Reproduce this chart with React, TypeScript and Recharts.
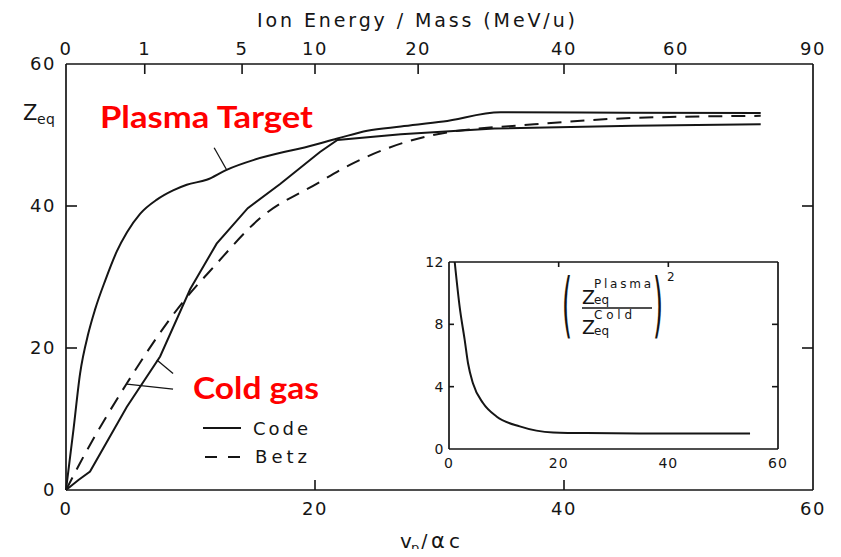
import React from 'react';
import { LineChart, Line, XAxis, YAxis, ReferenceLine } from 'recharts';

// ---------- data ----------
const velocityTicks = [0, 20, 40, 60];
const zTicks = [0, 20, 40, 60];
const energyTickLabels = [0, 1, 5, 10, 20, 40, 60, 90];

const plasmaV = [0, 0.6, 1.13, 1.8, 2.33, 3.17, 4.08, 4.9, 5.95, 7.3, 8.6, 9.7, 11.3, 12.9, 15.1, 17.5, 18.8, 21.8, 24.2, 26.9, 30.3, 34.9, 45.0, 55.8];
const plasmaZ = [0, 8.5, 16.4, 22.1, 25.4, 29.6, 33.6, 36.3, 38.9, 40.9, 42.2, 43.0, 43.7, 45.1, 46.5, 47.6, 48.1, 49.5, 50.6, 51.2, 51.9, 53.2, 53.15, 53.1];

const codeV = [0, 1.0, 1.93, 4.88, 7.56, 9.98, 12.1, 14.6, 17.2, 20.4, 21.8, 26.9, 34.4, 45.6, 55.8];
const codeZ = [0, 1.4, 2.6, 11.7, 18.8, 28.3, 34.7, 39.7, 43.1, 47.6, 49.3, 50.1, 50.9, 51.3, 51.5];

const betzV = [0, 1.13, 4.88, 9.4, 11.85, 15.6, 20.2, 22.8, 29.5, 37.6, 45.6, 55.8];
const betzZ = [0, 3.8, 15.0, 26.5, 31.4, 38.3, 43.2, 45.8, 50.0, 51.5, 52.4, 52.7];

const ratioV = [1.04, 1.95, 2.86, 3.47, 4.38, 6.2, 8.66, 12.9, 19.0, 25.1, 40.0, 54.9];
const ratioR = [12.0, 9.1, 7.0, 5.5, 4.2, 2.95, 2.09, 1.45, 1.06, 1.02, 1.0, 1.0];
const ratioTicks = [0, 4, 8, 12];
const insetVelocityTicks = [0, 20, 40, 60];

// pointer lines from labels to curves
const plasmaPointer = [{ x: 11.9, y: 48.2 }, { x: 12.9, y: 45.1 }];
const coldPointerA = [{ x: 7.3, y: 18.3 }, { x: 8.6, y: 16.4 }];
const coldPointerB = [{ x: 4.9, y: 14.9 }, { x: 8.6, y: 14.2 }];

const zip = (xs: number[], ys: number[], k: string) => xs.map((v, i) => ({ v, [k]: ys[i] }));
const plasmaData = zip(plasmaV, plasmaZ, 'z');
const codeData = zip(codeV, codeZ, 'z');
const betzData = zip(betzV, betzZ, 'z');
const ratioData = zip(ratioV, ratioR, 'r');
// E [MeV/u] = v^2 / 40 for the top axis
const energyTickPositions = energyTickLabels.map((e) => Math.sqrt(40 * e));

// ---------- styling ----------
const INK = '#151515';
const FONT = '"DejaVu Sans", sans-serif';

type TickOpts = {
  side: 'top' | 'bottom' | 'left' | 'right';
  len: number;
  gap: number;
  fontSize: number;
  spacing: number;
  ends: number[];
  labels?: (string | number)[];
  showLabel: boolean;
};

function makeTick(o: TickOpts) {
  return (props: any) => {
    const { x, y, payload, index } = props;
    const v = payload.value;
    const isEnd = o.ends.some((e) => Math.abs(e - v) < 1e-6);
    const text = o.labels ? o.labels[index] : v;
    let mark: any = null;
    let label: any = null;
    if (o.side === 'bottom') {
      if (!isEnd && o.len > 0) mark = <line x1={x} y1={y} x2={x} y2={y - o.len} stroke={INK} strokeWidth={1.6} />;
      if (o.showLabel)
        label = (
          <text x={x} y={y + o.gap} textAnchor="middle" fontSize={o.fontSize} fontFamily={FONT} letterSpacing={o.spacing} fill={INK}>
            {text}
          </text>
        );
    } else if (o.side === 'top') {
      if (!isEnd && o.len > 0) mark = <line x1={x} y1={y} x2={x} y2={y + o.len} stroke={INK} strokeWidth={1.6} />;
      if (o.showLabel)
        label = (
          <text x={x} y={y - o.gap} textAnchor="middle" fontSize={o.fontSize} fontFamily={FONT} letterSpacing={o.spacing} fill={INK}>
            {text}
          </text>
        );
    } else if (o.side === 'left') {
      if (!isEnd && o.len > 0) mark = <line x1={x} y1={y} x2={x + o.len} y2={y} stroke={INK} strokeWidth={1.6} />;
      if (o.showLabel)
        label = (
          <text x={x - o.gap} y={y} dy="0.36em" textAnchor="end" fontSize={o.fontSize} fontFamily={FONT} letterSpacing={o.spacing} fill={INK}>
            {text}
          </text>
        );
    } else {
      if (!isEnd && o.len > 0) mark = <line x1={x} y1={y} x2={x - o.len} y2={y} stroke={INK} strokeWidth={1.6} />;
    }
    return (
      <g>
        {mark}
        {label}
      </g>
    );
  };
}

const axisLine = { stroke: INK, strokeWidth: 1.7 };

const mainBottomTick = makeTick({ side: 'bottom', len: 10, gap: 25, fontSize: 18, spacing: 1.5, ends: [0, 60], showLabel: true });
const mainTopTick = makeTick({ side: 'top', len: 10, gap: 9, fontSize: 18, spacing: 1.5, ends: [0, 60], labels: energyTickLabels, showLabel: true });
const mainLeftTick = makeTick({ side: 'left', len: 11, gap: 10, fontSize: 18, spacing: 1.5, ends: [0, 60], showLabel: true });
const mainRightTick = makeTick({ side: 'right', len: 11, gap: 0, fontSize: 18, spacing: 0, ends: [0, 60], showLabel: false });

const insetBottomTick = makeTick({ side: 'bottom', len: 0, gap: 19, fontSize: 14, spacing: 1, ends: [0, 20, 40, 60], showLabel: true });
const insetTopTick = makeTick({ side: 'top', len: 5, gap: 0, fontSize: 14, spacing: 0, ends: [0, 60], showLabel: false });
const insetLeftTick = makeTick({ side: 'left', len: 5, gap: 5, fontSize: 14, spacing: 0.5, ends: [0, 12], showLabel: true });
const insetRightTick = makeTick({ side: 'right', len: 6, gap: 0, fontSize: 14, spacing: 0, ends: [0, 12], showLabel: false });

export default function App() {
  return (
    <div style={{ position: 'relative', width: 825, height: 541, background: '#fff' }}>
      <LineChart width={825} height={541} margin={{ top: 26, right: 10, bottom: 29, left: 18 }}>
        <XAxis xAxisId="bottom" type="number" dataKey="v" domain={[0, 60]} ticks={velocityTicks} interval={0} height={30}
          axisLine={axisLine} tickLine={false} tickSize={0} tickMargin={0} tick={mainBottomTick} />
        <XAxis xAxisId="top" orientation="top" type="number" dataKey="v" domain={[0, 60]} ticks={energyTickPositions} interval={0} height={30}
          axisLine={axisLine} tickLine={false} tickSize={0} tickMargin={0} tick={mainTopTick} />
        <YAxis yAxisId="left" type="number" domain={[0, 60]} ticks={zTicks} interval={0} width={40}
          axisLine={axisLine} tickLine={false} tickSize={0} tickMargin={0} tick={mainLeftTick} />
        <YAxis yAxisId="right" orientation="right" type="number" domain={[0, 60]} ticks={zTicks} interval={0} width={10}
          axisLine={axisLine} tickLine={false} tickSize={0} tickMargin={0} tick={mainRightTick} />
        {/* invisible carrier so the top / right frame axes get a scale */}
        <Line xAxisId="top" yAxisId="right" data={betzData} dataKey="z" stroke="none" dot={false} activeDot={false} legendType="none" isAnimationActive={false} />
        <Line xAxisId="bottom" yAxisId="left" data={plasmaData} dataKey="z" type="monotone" dot={false} stroke={INK} strokeWidth={2} isAnimationActive={false} />
        <Line xAxisId="bottom" yAxisId="left" data={codeData} dataKey="z" type="linear" dot={false} stroke={INK} strokeWidth={2} isAnimationActive={false} />
        <Line xAxisId="bottom" yAxisId="left" data={betzData} dataKey="z" type="monotone" dot={false} stroke={INK} strokeWidth={2} strokeDasharray="14 9" isAnimationActive={false} />
        <ReferenceLine xAxisId="bottom" yAxisId="left" segment={plasmaPointer} stroke={INK} strokeWidth={1.3} />
        <ReferenceLine xAxisId="bottom" yAxisId="left" segment={coldPointerA} stroke={INK} strokeWidth={1.3} />
        <ReferenceLine xAxisId="bottom" yAxisId="left" segment={coldPointerB} stroke={INK} strokeWidth={1.3} />
      </LineChart>

      <div style={{ position: 'absolute', left: 416, top: 244 }}>
        <LineChart width={364} height={222} margin={{ top: 9, right: 9, bottom: 0, left: 0 }}>
          <XAxis xAxisId="bottom" type="number" dataKey="v" domain={[0, 60]} ticks={insetVelocityTicks} interval={0} height={25}
            axisLine={axisLine} tickLine={false} tickSize={0} tickMargin={0} tick={insetBottomTick} />
          <XAxis xAxisId="top" orientation="top" type="number" dataKey="v" domain={[0, 60]} ticks={insetVelocityTicks} interval={0} height={1}
            axisLine={axisLine} tickLine={false} tickSize={0} tickMargin={0} tick={insetTopTick} />
          <YAxis yAxisId="left" type="number" domain={[0, 12]} ticks={ratioTicks} interval={0} width={25} allowDataOverflow
            axisLine={axisLine} tickLine={false} tickSize={0} tickMargin={0} tick={insetLeftTick} />
          <YAxis yAxisId="right" orientation="right" type="number" domain={[0, 12]} ticks={ratioTicks} interval={0} width={1} allowDataOverflow
            axisLine={axisLine} tickLine={false} tickSize={0} tickMargin={0} tick={insetRightTick} />
          <Line xAxisId="top" yAxisId="right" data={ratioData} dataKey="r" stroke="none" dot={false} activeDot={false} legendType="none" isAnimationActive={false} />
          <Line xAxisId="bottom" yAxisId="left" data={ratioData} dataKey="r" type="monotone" dot={false} stroke={INK} strokeWidth={2} isAnimationActive={false} />
        </LineChart>
      </div>

      <svg width={841} height={557} style={{ position: 'absolute', left: -8, top: -8, pointerEvents: 'none' }}>
        <text x={257} y={27} fontSize={19} fontFamily={FONT} fill={INK} textLength={318} lengthAdjust="spacing">
          Ion Energy / Mass (MeV/u)
        </text>
        <text x={23} y={120} fontSize={21} fontFamily={FONT} fill={INK}>Z</text>
        <text x={37} y={124} fontSize={14} fontFamily={FONT} fill={INK} letterSpacing={0.5}>eq</text>

        <text x={400} y={548} fontSize={20} fontFamily={FONT} fill={INK}>v</text>
        <text x={411} y={552} fontSize={13} fontFamily={FONT} fill={INK}>p</text>
        <text x={421} y={548} fontSize={19} fontFamily={FONT} fill={INK}>/</text>
        <text x={431} y={548} fontSize={21} fontFamily={FONT} fill={INK}>α</text>
        <text x={449} y={548} fontSize={20} fontFamily={FONT} fill={INK}>c</text>

        <text x={100} y={128} fontSize={30} fontWeight={700} fontFamily="Lato, 'Open Sans', sans-serif" fill="#FF0000" textLength={213} lengthAdjust="spacingAndGlyphs">
          Plasma Target
        </text>
        <text x={193} y={399} fontSize={30} fontWeight={700} fontFamily="Lato, 'Open Sans', sans-serif" fill="#FF0000" textLength={126} lengthAdjust="spacingAndGlyphs">
          Cold gas
        </text>

        <line x1={203} y1={428} x2={241} y2={428} stroke={INK} strokeWidth={2} />
        <text x={253} y={435} fontSize={18} fontFamily={FONT} fill={INK} textLength={55} lengthAdjust="spacing">Code</text>
        <line x1={205} y1={457} x2={241} y2={457} stroke={INK} strokeWidth={2} strokeDasharray="12 11" />
        <text x={255} y={463} fontSize={18} fontFamily={FONT} fill={INK} textLength={52} lengthAdjust="spacing">Betz</text>

        <text transform="translate(562,329) scale(0.8,2.2)" fontSize={32} fontFamily={FONT} fill={INK}>(</text>
        <text transform="translate(653,329) scale(0.8,2.2)" fontSize={32} fontFamily={FONT} fill={INK}>)</text>
        <text x={667} y={281} fontSize={12} fontFamily={FONT} fill={INK}>2</text>
        <text x={582} y={304} fontSize={19} fontFamily={FONT} fill={INK}>Z</text>
        <text x={594} y={288} fontSize={12} fontFamily={FONT} fill={INK} textLength={57} lengthAdjust="spacing">Plasma</text>
        <text x={594} y={304} fontSize={12} fontFamily={FONT} fill={INK}>eq</text>
        <line x1={582} y1={308} x2={652} y2={308} stroke={INK} strokeWidth={1.5} />
        <text x={582} y={334} fontSize={19} fontFamily={FONT} fill={INK}>Z</text>
        <text x={594} y={319} fontSize={12} fontFamily={FONT} fill={INK} textLength={38} lengthAdjust="spacing">Cold</text>
        <text x={594} y={335} fontSize={12} fontFamily={FONT} fill={INK}>eq</text>
      </svg>
    </div>
  );
}
